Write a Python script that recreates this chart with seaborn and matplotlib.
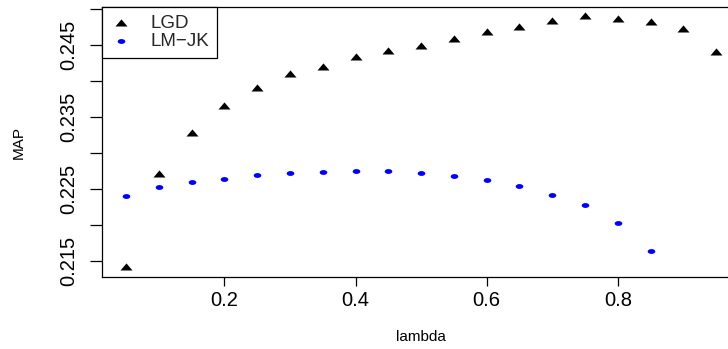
import numpy as np
import matplotlib
matplotlib.use("Agg")
import matplotlib.pyplot as plt
import seaborn as sns

# data
lam = [0.05, 0.10, 0.15, 0.20, 0.25, 0.30, 0.35, 0.40, 0.45, 0.50,
       0.55, 0.60, 0.65, 0.70, 0.75, 0.80, 0.85, 0.90, 0.95]
lgd = [0.2142, 0.2271, 0.2328, 0.2365, 0.2390, 0.2410, 0.2419, 0.2433, 0.2442, 0.2449,
       0.2458, 0.2468, 0.2475, 0.2483, 0.2490, 0.2486, 0.2482, 0.2472, 0.2440]
lam_jk = [0.05, 0.10, 0.15, 0.20, 0.25, 0.30, 0.35, 0.40, 0.45,
          0.50, 0.55, 0.60, 0.65, 0.70, 0.75, 0.80, 0.85]
lmjk = [0.2240, 0.2253, 0.2260, 0.2264, 0.2269, 0.2272, 0.2274, 0.2275, 0.2275,
        0.2272, 0.2268, 0.2263, 0.2254, 0.2242, 0.2227, 0.2203, 0.2163]
xticks = [0.2, 0.4, 0.6, 0.8]
xtick_labels = ["0.2", "0.4", "0.6", "0.8"]
yticks = [0.215, 0.220, 0.225, 0.230, 0.235, 0.240, 0.245, 0.250]
ytick_labels = ["0.215", "", "0.225", "", "0.235", "", "0.245", ""]

sns.set_style("ticks")
plt.rcParams["font.family"] = ["Liberation Sans", "DejaVu Sans"]

# markers a bit wider than tall, like the stretched original
tri = [(-1, -0.5), (1, -0.5), (0, 0.68)]
t = np.linspace(0, 2 * np.pi, 40, endpoint=False)
ell = list(zip(np.cos(t), 0.64 * np.sin(t)))

fig = plt.figure(figsize=(7.28, 3.49), dpi=100)
# right edge of the box lies beyond the picture, as in the reference
ax = fig.add_axes([102.3 / 728, 1 - 277.3 / 349, 637.6 / 728, 270.3 / 349])

sns.scatterplot(x=lam, y=lgd, marker=tri, s=75, color="black",
                linewidth=0, ax=ax, label="LGD")
sns.scatterplot(x=lam_jk, y=lmjk, marker=ell, s=30, color="#0000ff",
                linewidth=0, ax=ax, label="LM\u2212JK")

ax.set_xlim(0.014, 0.986)
ax.set_ylim(0.2127, 0.2503)
ax.set_xticks(xticks)
ax.set_xticklabels(xtick_labels)
ax.set_yticks(yticks)
ax.set_yticklabels(ytick_labels, rotation=90, va="center")

for s in ax.spines.values():
    s.set_color("black")
    s.set_linewidth(0.9)
ax.tick_params(axis="x", length=6.3, width=0.9, pad=3.5, labelsize=14.5, colors="black")
ax.tick_params(axis="y", length=8.4, width=0.9, pad=9, labelsize=14.5, colors="black")

ax.set_xlabel("lambda", fontsize=11, color="black")
ax.set_ylabel("MAP", fontsize=11, color="black")
ax.xaxis.set_label_coords(0.5, -0.22)
ax.yaxis.set_label_coords(-0.131, 0.5)
ax.xaxis.label.set_va("center")
ax.yaxis.label.set_va("center")

leg = ax.legend(loc="upper left", bbox_to_anchor=(0, 1), borderaxespad=0,
                fancybox=False, edgecolor="black", framealpha=1, fontsize=13.5,
                borderpad=0.42, labelspacing=0.05, handlelength=1.2,
                handletextpad=0.95)
leg.get_frame().set_linewidth(0.9)

fig.savefig("out.png", dpi=100)
